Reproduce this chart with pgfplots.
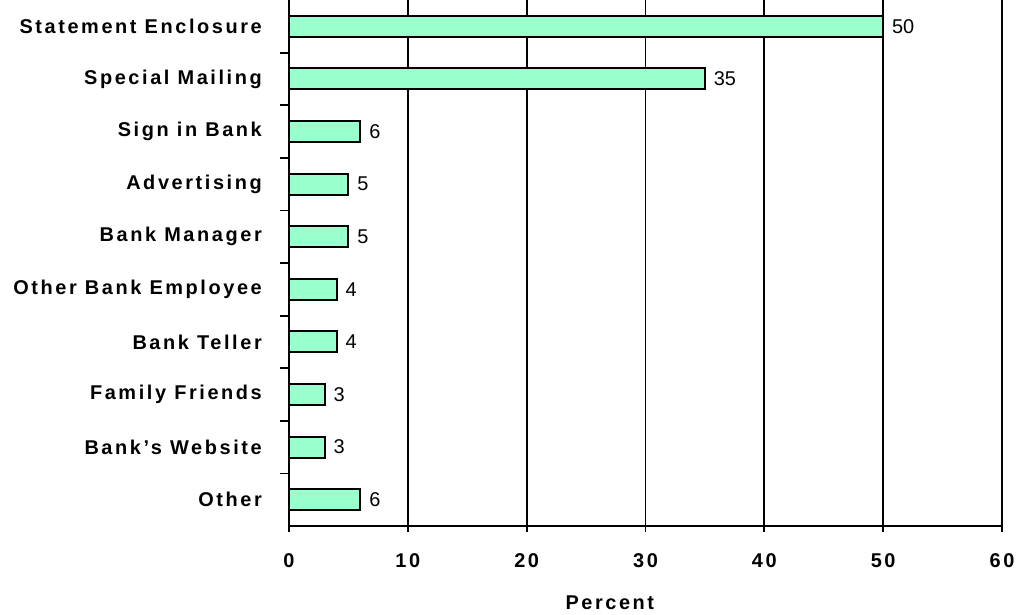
\documentclass[border=0pt]{standalone}
\usepackage{pgfplots}
\pgfplotsset{compat=1.18}
\usepackage{fontspec}
\setmainfont{Liberation Sans}
\newfontfamily\spaced[LetterSpace=13]{Liberation Sans}
\definecolor{barfill}{HTML}{99FFCC}
\begin{document}
\begin{tikzpicture}
\begin{axis}[
  name=ax,
  scale only axis, width=713bp, height=526bp,
  xmin=0, xmax=60, ymin=-0.5, ymax=9.5, y dir=reverse,
  xbar, bar width=0.4,
  axis x line*=bottom, axis y line*=left,
  axis line style={-, line width=2.4bp},
  /pgf/number format/assume math mode=true,
  xtick={0,10,...,60},
  ytick={0,...,9},
  yticklabels={Statement Enclosure,Special Mailing,Sign in Bank,Advertising,Bank Manager,Other Bank Employee,Bank Teller,Family Friends,Bank’s Website,Other},
  minor ytick={0.5,1.5,...,8.5},
  tick align=outside,
  major tick length=6bp, minor tick length=9bp,
  every major y tick/.style={draw=none},
  every tick/.style={black, line width=1.8bp},
  xmajorgrids, major grid style={black, line width=1.8bp},
  yticklabel style={font=\spaced\bfseries\fontsize{20}{23}\selectfont, inner sep=0pt, anchor=east, xshift=-21bp},
  xticklabel style={font=\spaced\bfseries\fontsize{20}{23}\selectfont, inner sep=0pt, anchor=center, yshift=-29bp},
  xlabel={Percent},
  xlabel style={font=\spaced\bfseries\fontsize{20}{23}\selectfont, at={(axis description cs:0.45,0)}, anchor=center, inner sep=0pt, yshift=-77bp},
  nodes near coords,
  nodes near coords style={font=\fontsize{20}{23}\selectfont, anchor=west, inner sep=0pt, xshift=8bp, black},
  clip=false,
]
\addplot[draw=black, line width=2bp, fill=barfill] coordinates {
  (50,0) (35,1) (6,2) (5,3) (5,4) (4,5) (4,6) (3,7) (3,8) (6,9)
};
\draw[line width=2.6bp] (rel axis cs:1,0) -- (rel axis cs:1,1);
\end{axis}
\pgfresetboundingbox
\path (ax.south west) ++(-289bp,-89bp) rectangle ++(1016bp,615bp);
\end{tikzpicture}
\end{document}
